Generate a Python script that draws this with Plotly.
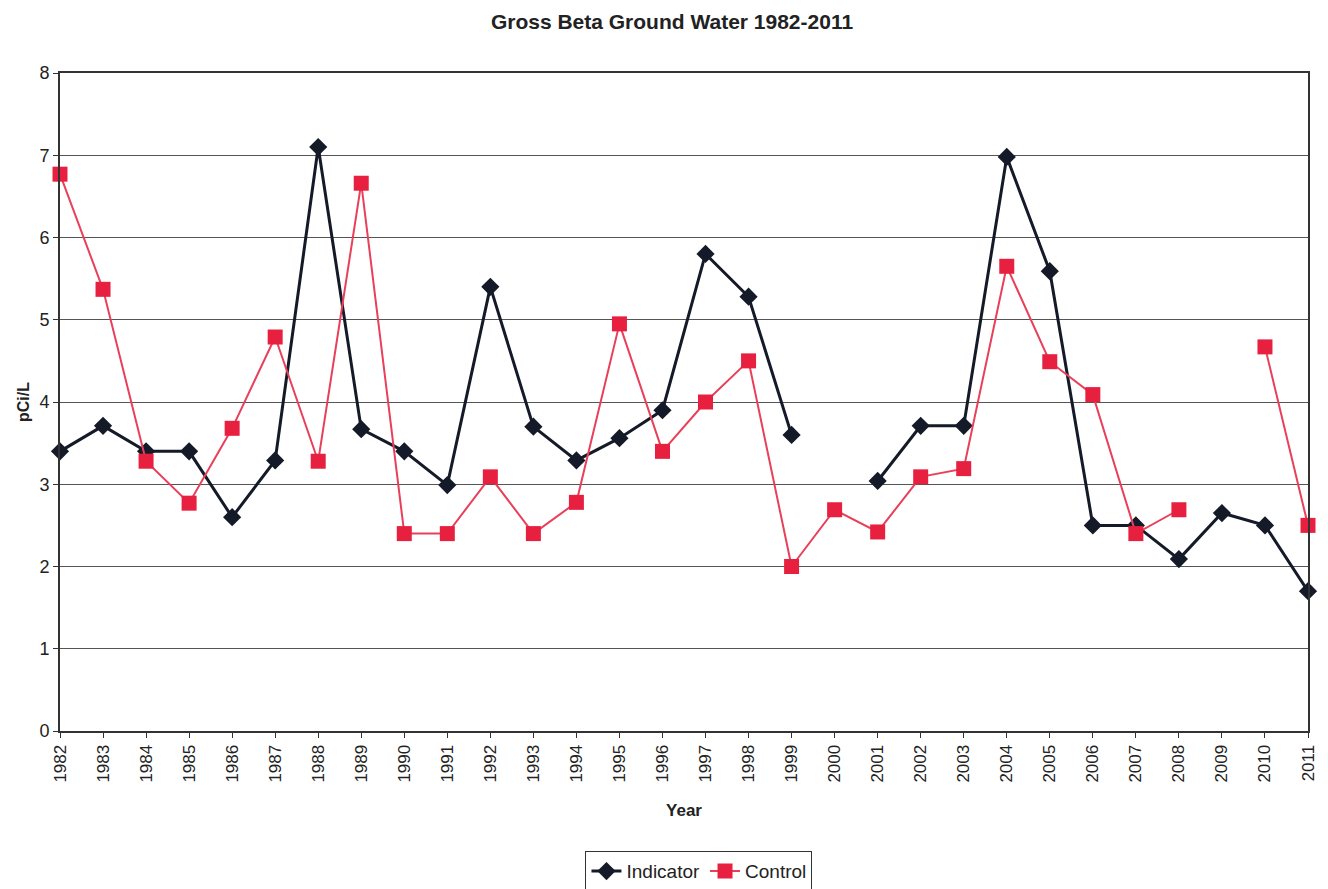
import plotly.graph_objects as go

years = list(range(1982, 2012))
indicator = [3.40, 3.71, 3.40, 3.40, 2.60, 3.29, 7.10, 3.67, 3.40, 2.99,
             5.40, 3.70, 3.29, 3.56, 3.90, 5.80, 5.28, 3.60, None, 3.04,
             3.71, 3.71, 6.98, 5.59, 2.50, 2.50, 2.09, 2.65, 2.50, 1.70]
control = [6.77, 5.37, 3.28, 2.77, 3.68, 4.79, 3.28, 6.66, 2.40, 2.40,
           3.09, 2.40, 2.78, 4.95, 3.40, 4.00, 4.50, 2.00, 2.69, 2.42,
           3.09, 3.19, 5.65, 4.49, 4.09, 2.40, 2.69, None, 4.67, 2.50]

font = "Liberation Sans, Arial, sans-serif"

fig = go.Figure()
fig.add_trace(go.Scatter(
    x=years, y=indicator, name="Indicator", mode="lines+markers",
    line=dict(color="#151a28", width=3),
    marker=dict(symbol="diamond", size=14, color="#151a28"),
    connectgaps=False, cliponaxis=False))
fig.add_trace(go.Scatter(
    x=years, y=control, name="Control", mode="lines+markers",
    line=dict(color="#e8405a", width=2),
    marker=dict(symbol="square", size=15, color="#e8203f"),
    connectgaps=False, cliponaxis=False))

fig.update_layout(
    width=1328, height=889,
    paper_bgcolor="white", plot_bgcolor="white",
    margin=dict(l=52, r=28, t=65, b=166, autoexpand=False),
    title=dict(text="<b>Gross Beta Ground Water 1982-2011</b>", x=0.5, xanchor="center",
               y=0.985, yanchor="middle", font=dict(family=font, size=21, color="#222")),
    font=dict(family=font, size=16, color="#222"),
    showlegend=True,
    legend=dict(orientation="h", x=0.512, xanchor="center", yref="container",
                y=0.029, yanchor="middle",
                bordercolor="#333", borderwidth=1, font=dict(size=19)),
)
fig.update_xaxes(
    range=[1982, 2011], tickmode="array", tickvals=years, ticktext=[str(y) for y in years],
    tickangle=-90, showgrid=False, showline=True, linecolor="#333", linewidth=2,
    ticks="outside", ticklen=5, tickcolor="#333", mirror=True,
    title=dict(text="<b>Year</b>", font=dict(size=17), standoff=22),
    tickfont=dict(size=17), zeroline=False)
fig.update_yaxes(
    range=[0, 8], dtick=1, showgrid=True, gridcolor="#555", gridwidth=1,
    showline=True, linecolor="#333", linewidth=2, mirror=True,
    ticks="outside", ticklen=5, tickcolor="#333",
    title=dict(text="<b>pCi/L</b>", font=dict(size=16), standoff=6),
    tickfont=dict(size=18), zeroline=False)

fig.write_html("out.html")
